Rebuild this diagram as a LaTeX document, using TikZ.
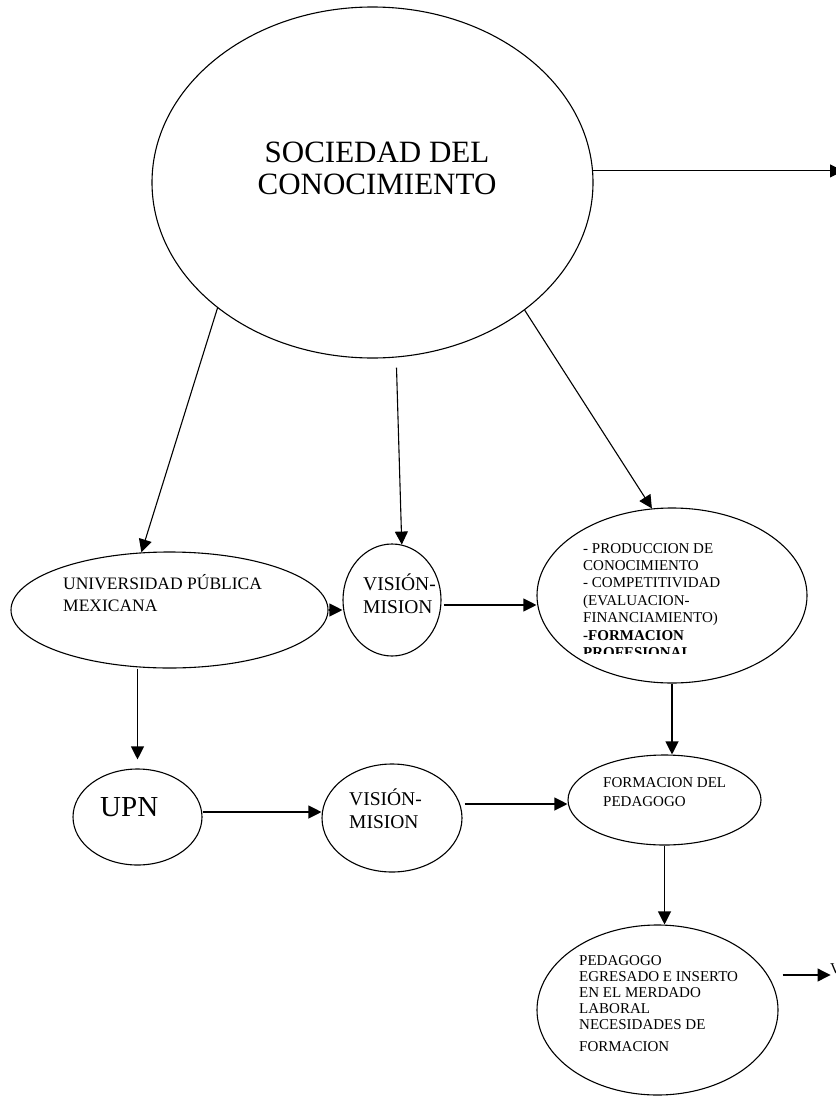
\documentclass[tikz,border=0pt]{standalone}
\usepackage{fontspec}
\setmainfont{Liberation Serif}
\usepackage{tikz}
\usetikzlibrary{positioning,shapes.geometric,arrows.meta}

\begin{document}
\begin{tikzpicture}[x=1pt,y=-1pt,
		ell/.style={draw=black,ellipse,line width=1.1pt,inner sep=0pt},
		arr/.style={-{Triangle[length=13pt,width=13pt]},line width=1.1pt},
		txt/.style={inner sep=0pt,align=left,anchor=north west}]
		\useasboundingbox (0,0) rectangle (835,1097);
		
		\node[ell,minimum width=441pt,minimum height=351pt] (soc) at (372.5,182.5) {};
		\node[inner sep=0pt,align=center,anchor=north,font=\fontsize{31}{32}\selectfont] (soct) at (377,142) {SOCIEDAD DEL\\CONOCIMIENTO};
		\coordinate (rt) at (843,0);
		\draw[arr] (soc.3.4)--(soc.3.4 -| rt);
		
		\node[ell,minimum width=317pt,minimum height=116pt] (upm) at (169.5,610) {};
		\node[txt,font=\fontsize{17.5}{22}\selectfont] (upmt) at (63,574.5) {UNIVERSIDAD PÚBLICA\\MEXICANA};
		\node[ell,minimum width=98pt,minimum height=112pt] (vm1) at (392,600) {};
		\node[txt,font=\fontsize{19.5}{22.5}\selectfont] (vm1t) at (363,574) {VISIÓN-\\MISION};
		\node[ell,minimum width=270pt,minimum height=175pt] (prod) at (672,595.5) {};
		\begin{scope}
			\clip (575,530) rectangle (805,653.5);
			\node[txt,font=\fontsize{15}{17.4}\selectfont] (prodt) at (583,543) {- PRODUCCION DE\\CONOCIMIENTO\\- COMPETITIVIDAD\\(EVALUACION-\\FINANCIAMIENTO)\\\textbf{-FORMACION}\\\textbf{PROFESIONAL}};
		\end{scope}
		
		\draw[arr] (soc.219.7)--(upm.116);
		\coordinate[shift={(24,9)}] (s2) at (soc.south);
		\draw[arr] (s2)--(vm1.80);
		\draw[arr] (soc.320.7)--(prod.103);
		\draw[arr] (upm.east)--(upm.east -| vm1.west);
		\coordinate[shift={(2,5)}] (v1r) at (vm1.east);
		\draw[arr] (v1r)--(v1r -| prod.west);
		
		\node[ell,minimum width=129pt,minimum height=96pt] (upn) at (137.5,817) {};
		\node[txt,font=\fontsize{29}{32}\selectfont] (upnt) at (100,797) {UPN};
		\node[ell,minimum width=140pt,minimum height=108pt] (vm2) at (392,818) {};
		\node[txt,font=\fontsize{19.5}{22.3}\selectfont] (vm2t) at (349,789) {VISIÓN-\\MISION};
		\node[ell,minimum width=193pt,minimum height=90pt] (form) at (664.5,800) {};
		\node[txt,font=\fontsize{15}{18.5}\selectfont] (formt) at (603,777.5) {FORMACION DEL\\PEDAGOGO};
		
		\coordinate (u1) at (upm.south -| upn.north);
		\coordinate[shift={(0,-9)}] (u2) at (upn.north);
		\draw[arr] (u1)--(u2);
		\coordinate[shift={(0,-5)}] (n1) at (upn.east);
		\draw[arr] (n1)--(n1 -| vm2.west);
		\coordinate[shift={(2,-14)}] (m1) at (vm2.east);
		\draw[arr] (m1)--(m1 -| form.west);
		\draw[arr] (prod.south)--(prod.south |- form.north);
		
		\node[ell,minimum width=241pt,minimum height=170pt] (ped) at (657.5,1010) {};
		\node[txt,font=\fontsize{15}{16.2}\selectfont] (pedt) at (579,955) {PEDAGOGO\\EGRESADO E INSERTO\\EN EL MERDADO\\LABORAL\\NECESIDADES DE\\[5.8pt]FORMACION};
		\draw[arr] (form.south)--(form.south |- ped.north);
		\coordinate[shift={(4,-35)}] (p1) at (ped.east);
		\coordinate[shift={(48,0)}] (p2) at (p1);
		\draw[arr] (p1)--(p2);
		\node[inner sep=0pt,anchor=base west,font=\fontsize{15}{18}\selectfont] (vt) at (830,973) {V};
	\end{tikzpicture}
\end{document}
